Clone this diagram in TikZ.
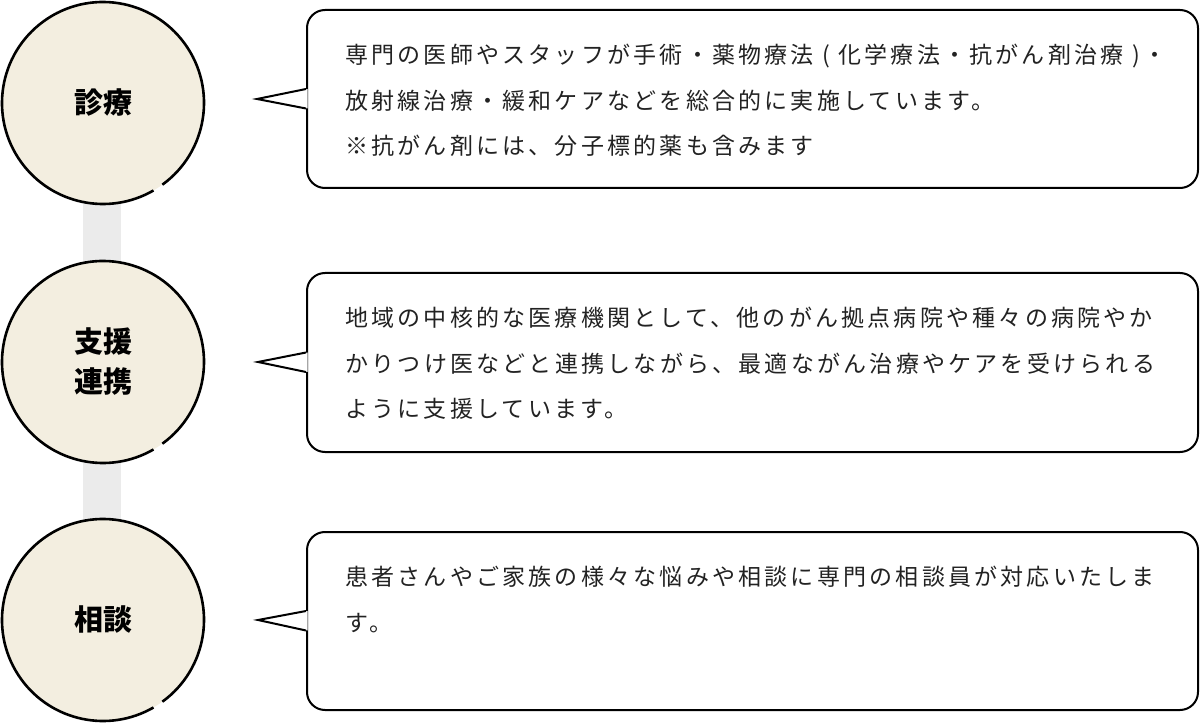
\documentclass[tikz,border=0pt]{standalone}
\usepackage{fontspec}
\newfontfamily\bodyjp[LetterSpace=14]{Noto Sans CJK JP}
\newfontfamily\labjp{Noto Sans CJK JP}
\definecolor{beige}{HTML}{F3EEE0}
\definecolor{barcol}{HTML}{EBEBEB}
\definecolor{txt}{HTML}{222222}
\begin{document}
\begin{tikzpicture}[x=1pt,y=1pt]
\tikzset{
  circnode/.style={circle, fill=beige, minimum size=202pt, inner sep=0pt,
    font=\labjp\bfseries\fontsize{29}{40}\selectfont, text=black, align=center},
  ring/.style={line width=2.6pt, draw=black},
  bubble/.style={draw=black, line width=2pt, rounded corners=18pt, fill=white,
    minimum width=891pt, inner sep=0pt},
  body/.style={anchor=north west, inner sep=0pt, align=left,
    font=\bodyjp\fontsize{23}{45.5}\selectfont, text=txt},
  ptr/.style={draw=black, line width=2pt, line join=miter},
}
\useasboundingbox (0,0) rectangle (1200,724);
% circle centres
\coordinate (p1) at (103,621);
\coordinate (p2) at (103,362);
\coordinate (p3) at (103,104);
% bar
\fill[barcol] ([xshift=-20pt]p1) rectangle ([xshift=18pt]p3);
% circles
\node[circnode] (c1) at (p1) {診療};
\node[circnode] (c2) at (p2) {支援\\連携};
\node[circnode] (c3) at (p3) {相談};
\foreach \c in {c1,c2,c3}{
  \draw[ring] ([shift={(-54:101pt)}]\c.center) arc[start angle=-54, end angle=300, radius=101pt];
}
% bubbles
\node[bubble, minimum height=178pt] (b1) at (752.5,625) {};
\node[bubble, minimum height=179pt] (b2) at (752.5,361.5) {};
\node[bubble, minimum height=178pt] (b3) at (752.5,103) {};
\coordinate (t1) at (257,625);
\coordinate (t2) at (258,362);
\coordinate (t3) at (258,104);
\foreach \b/\t in {b1/t1,b2/t2,b3/t3}{
  \fill[white] ([shift={(1.6pt,10pt)}]\b.west) -- (\t) -- ([shift={(1.6pt,-9.5pt)}]\b.west) -- cycle;
  \draw[ptr] ([yshift=10pt]\b.west) -- (\t) -- ([yshift=-9.5pt]\b.west);
}
% texts
\node[body] (x1) at (345,680) {専門の医師やスタッフが手術・薬物療法 ( 化学療法・抗がん剤治療 )・\\放射線治療・緩和ケアなどを総合的に実施しています。\\※抗がん剤には、分子標的薬も含みます};
\node[body] (x2) at (345,417) {地域の中核的な医療機関として、他のがん拠点病院や種々の病院やか\\かりつけ医などと連携しながら、最適ながん治療やケアを受けられる\\ように支援しています。};
\node[body] (x3) at (345,158) {患者さんやご家族の様々な悩みや相談に専門の相談員が対応いたしま\\す。};
\end{tikzpicture}
\end{document}
